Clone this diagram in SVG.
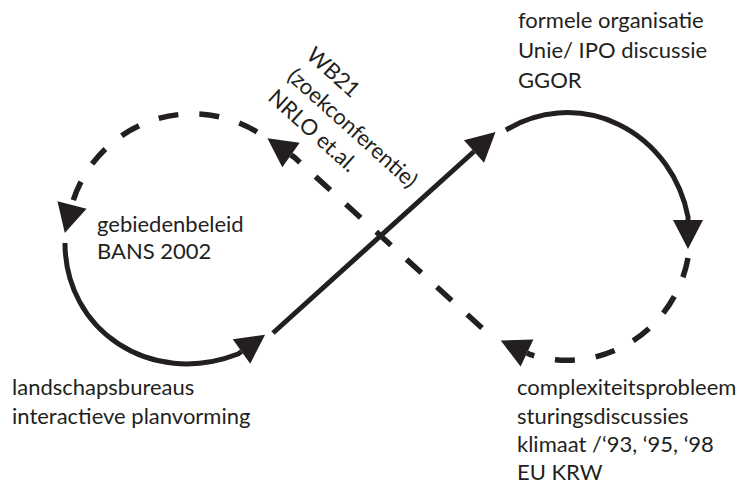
<svg xmlns="http://www.w3.org/2000/svg" width="741" height="484" viewBox="0 0 741 484">
  <style>
    .lbl { font-family: Lato, "Liberation Sans", sans-serif; font-size: 22px; fill: #231f20; }
    .solid { fill: none; stroke: #231f20; stroke-width: 5; }
    .dash { fill: none; stroke: #231f20; stroke-width: 5.5; stroke-dasharray: 20 21; }
  </style>
  <defs>
    <marker id="head" markerUnits="userSpaceOnUse" markerWidth="32" markerHeight="32" viewBox="0 -16 32 32" refX="0" refY="0" orient="auto" overflow="visible">
      <path d="M0,-15 L29,0 L0,15 Z" fill="#231f20"/>
    </marker>
  </defs>
  <rect width="741" height="484" fill="#ffffff"/>

  <!-- figure-eight cycle: solid outward path, dashed return path -->
  <g id="connectors">
    <path class="solid" d="M65,243 C65,330 150,388 238,354 L241.5,351.5" marker-end="url(#head)"/>
    <path class="solid" d="M273,333 L474,151.5" marker-end="url(#head)"/>
    <path class="solid" d="M506,130 A123 130 0 0 1 688,217 L688,220" marker-end="url(#head)"/>
    <path class="dash" d="M688,258 A123 125 0 0 1 530.6,354.7 L527,353" marker-end="url(#head)"/>
    <path class="dash" d="M482,328 L294.5,157.5 L291,155" marker-end="url(#head)"/>
    <path class="dash" d="M257,132 A125 125 0 0 0 73,201.1 L72,205" marker-end="url(#head)"/>
  </g>

  <g id="node-formeel">
    <text class="lbl" x="518" y="27.5">formele organisatie</text>
    <text class="lbl" x="518" y="58">Unie/ IPO discussie</text>
    <text class="lbl" x="518" y="87.5">GGOR</text>
  </g>

  <g id="node-wb21" transform="translate(305,57) rotate(42)">
    <text class="lbl" x="0" y="0">WB21</text>
    <text class="lbl" x="0" y="28.5">(zoekconferentie)</text>
    <text class="lbl" x="0" y="57">NRLO et.al.</text>
  </g>

  <g id="node-gebieden">
    <text class="lbl" x="97" y="231.5">gebiedenbeleid</text>
    <text class="lbl" x="97" y="258.5">BANS 2002</text>
  </g>

  <g id="node-landschap">
    <text class="lbl" x="12" y="395">landschapsbureaus</text>
    <text class="lbl" x="12" y="423.5">interactieve planvorming</text>
  </g>

  <g id="node-complexiteit">
    <text class="lbl" x="517" y="395">complexiteitsprobleem</text>
    <text class="lbl" x="517" y="423.5">sturingsdiscussies</text>
    <text class="lbl" x="517" y="452">klimaat /‘93, ‘95, ‘98</text>
    <text class="lbl" x="517" y="480">EU KRW</text>
  </g>
</svg>
